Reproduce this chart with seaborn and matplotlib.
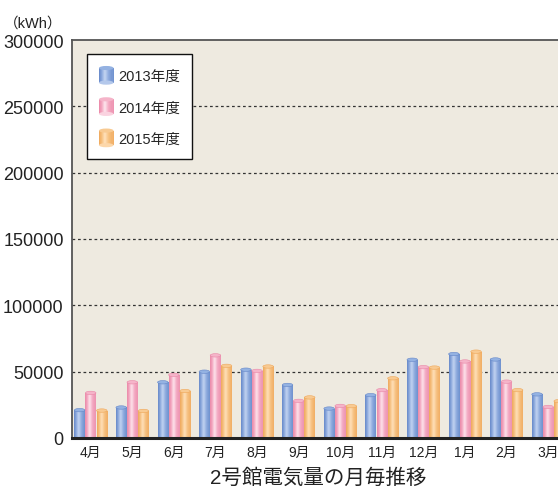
import numpy as np
import pandas as pd
import matplotlib
matplotlib.use("Agg")
import matplotlib.pyplot as plt
import seaborn as sns
from matplotlib.patches import Ellipse, Rectangle
from matplotlib.colors import LinearSegmentedColormap
from matplotlib.legend_handler import HandlerBase

# Monthly electricity use of building No.2 (kWh), fiscal years 2013-2015
months = ["4月", "5月", "6月", "7月", "8月", "9月",
          "10月", "11月", "12月", "1月", "2月", "3月"]
years = ["2013年度", "2014年度", "2015年度"]
kwh_2013 = [21000, 23000, 42000, 50000, 51500, 40000,
            22200, 32300, 59000, 63300, 59200, 32900]
kwh_2014 = [34000, 42000, 47600, 62300, 50600, 28000,
            24200, 36100, 53400, 57700, 42500, 23400]
kwh_2015 = [20700, 20400, 35400, 54400, 53900, 30600,
            24000, 45000, 53100, 65100, 36100, 27800]
y_ticks = [0, 50000, 100000, 150000, 200000, 250000, 300000]
unit_label = "（kWh）"
title = "2号館電気量の月毎推移"

# cylinder shading: (left edge, mid tone, highlight, right edge, cap)
shades = {
    "2013年度": ("#6587C8", "#8CA9DD", "#C4D5F1", "#6E91CE", "#94B2E2"),
    "2014年度": ("#EA88A8", "#F3A7C0", "#FDE5ED", "#ED93B1", "#F5B4C9"),
    "2015年度": ("#EFA85A", "#F6C07F", "#FFE1BC", "#F1AE64", "#F8CA92"),
}

df = pd.DataFrame({
    "month": months * 3,
    "year": np.repeat(years, len(months)),
    "kwh": kwh_2013 + kwh_2014 + kwh_2015,
})

sns.set_theme(style="white")
plt.rcParams["font.family"] = ["Liberation Sans", "Noto Sans CJK JP", "DejaVu Sans"]

W, H = 558, 489
fig = plt.figure(figsize=(W / 100, H / 100), dpi=100)
fig.patch.set_facecolor("white")
ax = fig.add_axes([72 / W, 1 - 439 / H, 499 / W, 398 / H])
ax.set_facecolor("#EEEAE0")

sns.barplot(data=df, x="month", y="kwh", hue="year", hue_order=years,
            palette=[shades[y][1] for y in years], width=0.8, gap=0.05,
            saturation=1, errorbar=None, legend=False, ax=ax, zorder=2)

ymax = 300000
cap_h = 3.4 * ymax / 398  # cap ellipse height in data units (~3 px)


def cyl_cmap(name):
    left, mid, hi, right, _ = shades[name]
    return LinearSegmentedColormap.from_list(
        name, [(0.0, left), (0.2, mid), (0.42, hi), (0.7, mid), (1.0, right)])


grad = np.linspace(0, 1, 64).reshape(1, -1)
for name, cont in zip(years, ax.containers):
    cmap = cyl_cmap(name)
    cap = shades[name][4]
    for bar in cont:
        x0, w, h = bar.get_x(), bar.get_width(), bar.get_height()
        bar.set_facecolor("none")
        bar.set_edgecolor("none")
        im = ax.imshow(grad, cmap=cmap, aspect="auto", interpolation="bicubic",
                       extent=(x0, x0 + w, 0, h), zorder=2)
        im.set_clip_path(bar)
        ax.add_patch(Ellipse((x0 + w / 2, h), w, cap_h, facecolor=cap,
                             edgecolor=shades[name][0], linewidth=0.4, zorder=3))

ax.set_xlim(-0.45, 11.55)
ax.set_ylim(0, ymax)
ax.set_yticks(y_ticks)
ax.set_yticklabels([str(v) for v in y_ticks])
ax.set_xlabel("")
ax.set_ylabel("")
ax.tick_params(axis="y", length=0, pad=6, labelsize=13, labelcolor="#222222")
ax.tick_params(axis="x", length=0, pad=5, labelsize=10, labelcolor="#222222")

# dashed guide lines
for v in y_ticks[1:-1]:
    ax.axhline(v, color="#333333", linewidth=0.9, dashes=(2.2, 2.2), zorder=1)

for side in ["top", "right", "left"]:
    ax.spines[side].set_color("#555555")
    ax.spines[side].set_linewidth(1.3)
ax.spines["bottom"].set_color("#222222")
ax.spines["bottom"].set_linewidth(2.2)
for s in ax.spines.values():
    s.set_zorder(5)


class CylinderHandler(HandlerBase):
    def create_artists(self, legend, orig_handle, xdescent, ydescent,
                       width, height, fontsize, trans):
        cap = shades[orig_handle.get_label()][4]
        cmap = cyl_cmap(orig_handle.get_label())
        n = 14
        arts = []
        eh = height * 0.22
        for i in range(n):
            c = cmap((i + 0.5) / n)
            arts.append(Rectangle((-xdescent + width * i / n, -ydescent + eh / 2),
                                  width / n + 0.3, height - eh, facecolor=c,
                                  edgecolor="none", transform=trans))
        arts.append(Ellipse((-xdescent + width / 2, -ydescent + eh / 2), width, eh,
                            facecolor=cmap(0.5), edgecolor="none", transform=trans))
        arts.append(Ellipse((-xdescent + width / 2, -ydescent + height - eh / 2),
                            width, eh, facecolor=cap, edgecolor="none",
                            transform=trans))
        return arts


handles = [Rectangle((0, 0), 1, 1, label=y) for y in years]
leg = ax.legend(handles=handles, labels=years, loc="upper left",
                bbox_to_anchor=(15 / 499, 1 - 14 / 398),
                handler_map={Rectangle: CylinderHandler()},
                fontsize=10.5, frameon=True, fancybox=False, framealpha=1,
                facecolor="white", edgecolor="#111111", borderpad=0.82,
                handlelength=1.0, handleheight=1.6, labelspacing=0.86,
                handletextpad=0.35, borderaxespad=0)
leg.get_frame().set_linewidth(1.0)
leg.set_zorder(6)

fig.text(4 / W, 1 - 24 / H, unit_label, fontsize=10.5, ha="left", va="center",
         color="#222222")
fig.text(318 / W, 1 - 478 / H, title, fontsize=14.8, ha="center", va="center",
         color="#222222")

fig.savefig("out.png", dpi=100)
